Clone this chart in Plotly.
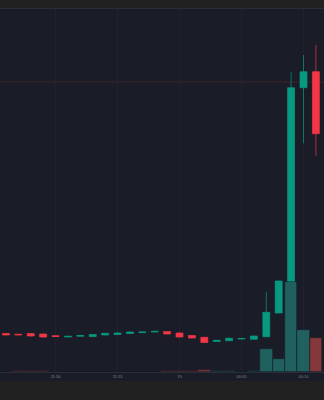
import plotly.graph_objects as go
import pandas as pd

# ---- data ----
times = ["2024-01-18 23:46", "2024-01-18 23:47", "2024-01-18 23:48", "2024-01-18 23:49",
         "2024-01-18 23:50", "2024-01-18 23:51", "2024-01-18 23:52", "2024-01-18 23:53",
         "2024-01-18 23:54", "2024-01-18 23:55", "2024-01-18 23:56", "2024-01-18 23:57",
         "2024-01-18 23:58", "2024-01-18 23:59", "2024-01-19 00:00", "2024-01-19 00:01",
         "2024-01-19 00:02", "2024-01-19 00:03", "2024-01-19 00:04", "2024-01-19 00:05",
         "2024-01-19 00:06", "2024-01-19 00:07", "2024-01-19 00:08", "2024-01-19 00:09",
         "2024-01-19 00:10", "2024-01-19 00:11"]
open_ = [0.385, 0.378, 0.385, 0.380, 0.363, 0.350, 0.357, 0.355, 0.370, 0.375, 0.385, 0.394, 0.400,
         0.405, 0.390, 0.365, 0.347, 0.305, 0.313, 0.330, 0.327, 0.353, 0.590, 0.903, 2.843, 3.003]
close = [0.370, 0.372, 0.360, 0.350, 0.355, 0.357, 0.365, 0.375, 0.387, 0.390, 0.400, 0.400, 0.406,
         0.380, 0.350, 0.340, 0.295, 0.317, 0.337, 0.335, 0.360, 0.597, 0.910, 2.843, 3.003, 2.383]
high = [0.390, 0.380, 0.390, 0.385, 0.365, 0.360, 0.368, 0.378, 0.390, 0.395, 0.405, 0.405, 0.415,
        0.410, 0.395, 0.370, 0.350, 0.320, 0.345, 0.340, 0.365, 0.803, 0.915, 2.997, 3.170, 3.270]
low = [0.365, 0.370, 0.355, 0.345, 0.352, 0.348, 0.355, 0.352, 0.367, 0.372, 0.382, 0.392, 0.398,
       0.377, 0.347, 0.337, 0.292, 0.302, 0.310, 0.328, 0.324, 0.350, 0.587, 0.900, 2.287, 2.163]
volume = [500, 1500, 600, 800, 400, 300, 300, 500, 500, 400, 400, 300, 300,
          800, 1500, 1500, 1800, 600, 600, 400, 1000, 23000, 13300, 90300, 42000, 34000]
ref_price = 2.90

# ---- styling ----
BG = "#1a1d27"
PAPER = "#212121"
UP = "#089981"
DOWN = "#f23645"
UP_VOL = "rgba(38,166,154,0.5)"
DOWN_VOL = "rgba(239,83,80,0.5)"
GRID = "#1f2330"

x = pd.to_datetime(times)
vol_colors = [UP_VOL if c >= o else DOWN_VOL for o, c in zip(open_, close)]

fig = go.Figure()
fig.add_trace(go.Bar(
    x=x, y=volume, yaxis="y2", marker=dict(color=vol_colors, line=dict(color=BG, width=0.6)),
    showlegend=False, hoverinfo="skip"))
fig.add_trace(go.Candlestick(
    x=x, open=open_, high=high, low=low, close=close,
    increasing=dict(line=dict(color=UP, width=0.7), fillcolor=UP),
    decreasing=dict(line=dict(color=DOWN, width=0.7), fillcolor=DOWN),
    whiskerwidth=0, showlegend=False))

tickvals = pd.to_datetime(["2024-01-18 23:50", "2024-01-18 23:55", "2024-01-19 00:00",
                           "2024-01-19 00:05", "2024-01-19 00:10"])
ticktext = ["11:50", "11:55", "19", "00:05", "00:10"]

fig.update_layout(
    width=324, height=400,
    margin=dict(l=0, r=0, t=9, b=28),
    paper_bgcolor=PAPER, plot_bgcolor=BG,
    boxgap=0.2, bargap=0,
    xaxis=dict(
        range=["2024-01-18 23:45:31.4", "2024-01-19 00:11:39.2"],
        rangeslider=dict(visible=False),
        tickvals=tickvals, ticktext=ticktext,
        tickfont=dict(size=4, color="#80838c", family="Liberation Sans"),
        showgrid=True, gridcolor=GRID, gridwidth=1,
        showline=True, linecolor="#2a2e39", linewidth=1, mirror=True,
        ticks="", zeroline=False, fixedrange=True),
    yaxis=dict(range=[0, 3.63], showticklabels=False, showgrid=False, zeroline=False, ticks=""),
    yaxis2=dict(range=[0, 363000], overlaying="y", showticklabels=False, showgrid=False,
                zeroline=False, ticks=""),
    shapes=[
        dict(type="rect", xref="paper", yref="paper", x0=0, x1=1, y0=-9 / 363, y1=0,
             fillcolor=BG, line=dict(width=0), layer="below"),
        dict(type="line", xref="paper", yref="y", x0=0, x1=1, y0=ref_price, y1=ref_price,
             line=dict(color="rgba(242,54,69,0.18)", width=1), layer="below"),
    ],
)

fig.write_html("out.html")
